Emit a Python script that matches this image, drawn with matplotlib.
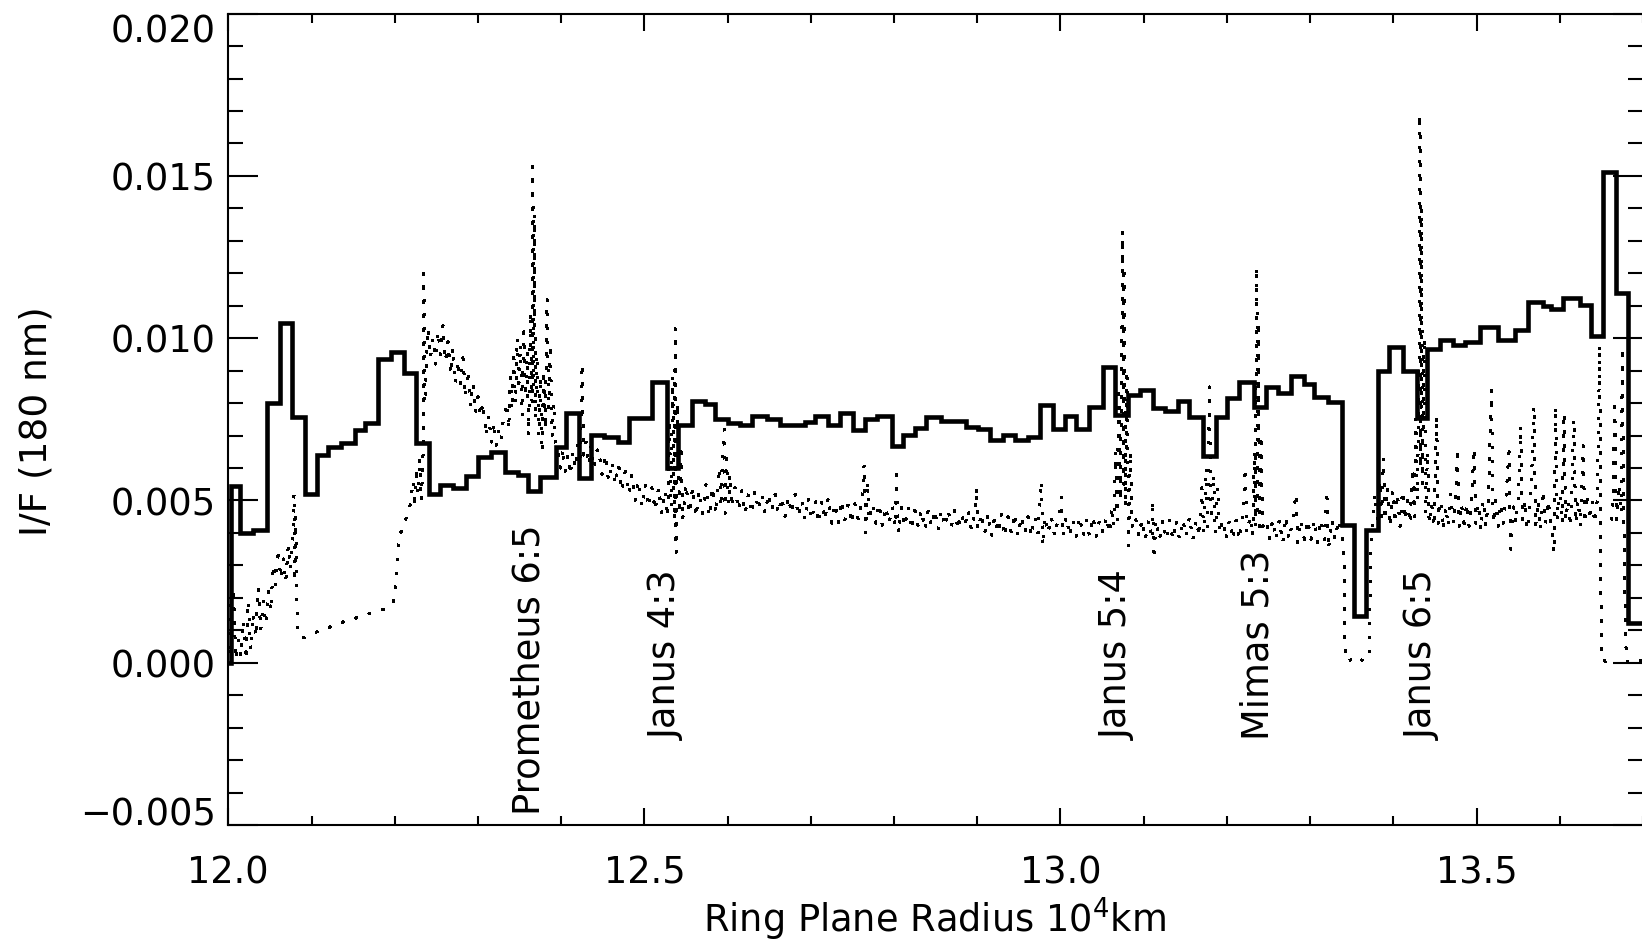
import numpy as np
import matplotlib
matplotlib.use("Agg")
import matplotlib.pyplot as plt
from matplotlib.ticker import FixedLocator, FixedFormatter, MultipleLocator

plt.rcParams['font.family'] = ['DejaVu Sans']

# ---------------- data ----------------
# binned profile (thick step line): bin edges (10^4 km) and I/F values (x 1e-3)
step_edges = [11.98, 12.003, 12.014, 12.030, 12.047, 12.062, 12.076, 12.092, 12.107, 12.120,
              12.136, 12.152, 12.164, 12.180, 12.196, 12.211, 12.226, 12.241, 12.254, 12.270,
              12.286, 12.300, 12.316, 12.332, 12.348, 12.360, 12.374, 12.394, 12.406, 12.422,
              12.436, 12.452, 12.468, 12.482, 12.495, 12.509, 12.527, 12.540, 12.557, 12.573,
              12.585, 12.601, 12.615, 12.629, 12.647, 12.663, 12.678, 12.693, 12.705, 12.721,
              12.735, 12.751, 12.765, 12.779, 12.797, 12.811, 12.825, 12.839, 12.857, 12.872,
              12.887, 12.901, 12.915, 12.931, 12.945, 12.961, 12.975, 12.991, 13.005, 13.019,
              13.034, 13.051, 13.066, 13.081, 13.096, 13.111, 13.126, 13.141, 13.155, 13.171,
              13.187, 13.200, 13.215, 13.233, 13.247, 13.261, 13.277, 13.293, 13.305, 13.321,
              13.338, 13.353, 13.367, 13.381, 13.395, 13.411, 13.428, 13.441, 13.456, 13.472,
              13.486, 13.504, 13.526, 13.546, 13.562, 13.580, 13.589, 13.604, 13.624, 13.637,
              13.652, 13.668, 13.682, 13.75]
step_if_milli = [0.0, 5.45, 4.00, 4.10, 8.00, 10.48, 7.58, 5.19, 6.40, 6.66,
                 6.78, 7.17, 7.38, 9.35, 9.58, 8.92, 6.76, 5.19, 5.47, 5.40,
                 5.75, 6.35, 6.50, 5.89, 5.79, 5.30, 5.73, 6.66, 7.69, 5.68,
                 7.02, 6.95, 6.81, 7.53, 7.53, 8.66, 5.99, 7.33, 8.08, 7.97,
                 7.50, 7.40, 7.33, 7.60, 7.51, 7.33, 7.33, 7.43, 7.60, 7.33,
                 7.69, 7.17, 7.50, 7.60, 6.68, 7.02, 7.22, 7.58, 7.45, 7.46,
                 7.27, 7.19, 6.86, 7.01, 6.86, 6.95, 7.94, 7.19, 7.60, 7.19,
                 7.87, 9.10, 7.63, 8.25, 8.40, 7.84, 7.76, 8.08, 7.58, 6.37,
                 7.58, 8.17, 8.66, 7.89, 8.51, 8.30, 8.84, 8.59, 8.18, 8.03,
                 4.24, 1.44, 4.09, 9.00, 9.72, 9.00, 7.53, 9.66, 9.95, 9.79,
                 9.89, 10.35, 9.94, 10.25, 11.12, 10.99, 10.89, 11.23, 11.02, 10.07,
                 15.13, 11.40, 1.22]

# full-resolution profile (dotted line): radius (10^4 km) and I/F (x 1e-3)
dot_r = [
    12.000, 12.003, 12.006, 12.009, 12.012, 12.015, 12.018, 12.021, 12.024, 12.027, 12.030, 12.033, 12.036, 12.039, 12.042, 12.045,
    12.048, 12.051, 12.054, 12.057, 12.060, 12.063, 12.066, 12.069, 12.072, 12.075, 12.078, 12.079, 12.080, 12.081, 12.083,
    12.086, 12.092, 12.100, 12.110, 12.120, 12.130, 12.140, 12.150, 12.160, 12.170, 12.180, 12.190, 12.198,
    12.202, 12.204, 12.207, 12.211, 12.215, 12.219, 12.222, 12.224, 12.226, 12.228, 12.230, 12.232, 12.234, 12.235, 12.236,
    12.238, 12.240, 12.243, 12.246, 12.249, 12.252, 12.255, 12.258, 12.261, 12.264, 12.267, 12.270, 12.273, 12.276, 12.279, 12.282, 12.285, 12.288, 12.291, 12.294, 12.297, 12.300, 12.303, 12.306,
    12.310, 12.313, 12.316, 12.319, 12.322, 12.325, 12.328, 12.331,
    12.335, 12.337, 12.339, 12.341, 12.343, 12.345, 12.347, 12.349, 12.351, 12.353, 12.355, 12.357, 12.359, 12.361, 12.363, 12.365, 12.366, 12.367, 12.368, 12.369, 12.371, 12.373, 12.375, 12.377, 12.379, 12.381, 12.383, 12.385, 12.387, 12.389, 12.391, 12.393,
    12.396, 12.399, 12.402, 12.405, 12.408, 12.411, 12.414, 12.417, 12.420, 12.423, 12.425, 12.427, 12.430, 12.433, 12.436, 12.439, 12.442,
    12.445, 12.449, 12.453, 12.457, 12.461, 12.465, 12.469, 12.473, 12.477, 12.481, 12.485, 12.489, 12.493, 12.497, 12.501, 12.505, 12.509, 12.513, 12.517, 12.521, 12.525,
    12.528, 12.530, 12.532, 12.534, 12.536, 12.537, 12.538, 12.540, 12.542, 12.544, 12.546,
    12.550, 12.554, 12.558, 12.562, 12.566, 12.570, 12.574, 12.578, 12.582, 12.586,
    12.590, 12.592, 12.594, 12.596, 12.597, 12.599, 12.601, 12.603, 12.605,
    12.609, 12.613, 12.617, 12.621, 12.625, 12.629, 12.633, 12.637, 12.641, 12.645, 12.649, 12.653, 12.657, 12.661, 12.665, 12.669, 12.673, 12.677, 12.681, 12.685, 12.689,
    12.693, 12.697, 12.701, 12.705, 12.709, 12.713, 12.717, 12.721, 12.725, 12.729, 12.733, 12.737, 12.741, 12.745, 12.749, 12.753, 12.757, 12.761,
    12.764, 12.766, 12.768, 12.770, 12.774, 12.778, 12.782, 12.786, 12.790, 12.794, 12.798, 12.801, 12.803, 12.805,
    12.809, 12.813, 12.817, 12.821, 12.825, 12.829, 12.833, 12.837, 12.841, 12.845, 12.849, 12.853, 12.857, 12.861, 12.865, 12.869, 12.873, 12.877, 12.881, 12.885, 12.889, 12.893, 12.897,
    12.899, 12.901, 12.905, 12.909, 12.913, 12.917, 12.921, 12.925, 12.929, 12.933, 12.937, 12.941, 12.945, 12.949, 12.953, 12.957, 12.961, 12.965, 12.969, 12.973,
    12.977, 12.979, 12.981, 12.985, 12.989, 12.993, 12.997, 13.001, 13.003, 13.007, 13.011, 13.015, 13.019, 13.023, 13.027, 13.031, 13.035, 13.039, 13.043, 13.047, 13.051, 13.055, 13.059,
    13.062, 13.064, 13.066, 13.068, 13.070, 13.072, 13.074, 13.075, 13.076, 13.077, 13.078, 13.080, 13.082, 13.084, 13.086,
    13.090, 13.094, 13.098, 13.102, 13.106, 13.110, 13.111, 13.112, 13.115, 13.119, 13.123, 13.127, 13.131, 13.135, 13.139, 13.143, 13.147, 13.151, 13.155, 13.159, 13.163, 13.167,
    13.170, 13.172, 13.175, 13.177, 13.179, 13.181, 13.184, 13.186, 13.189, 13.191,
    13.195, 13.199, 13.203, 13.207, 13.211, 13.215, 13.219, 13.222, 13.224, 13.228, 13.231,
    13.233, 13.234, 13.235, 13.236, 13.237, 13.238, 13.239, 13.241, 13.243,
    13.247, 13.251, 13.255, 13.259, 13.263, 13.267, 13.271, 13.275, 13.279, 13.283, 13.285, 13.289, 13.293, 13.297, 13.301, 13.305, 13.309, 13.313, 13.317, 13.320, 13.322, 13.326, 13.330, 13.334, 13.338,
    13.341, 13.342, 13.344, 13.350, 13.355, 13.360, 13.366, 13.371, 13.373, 13.375,
    13.378, 13.381, 13.384, 13.386, 13.388, 13.390, 13.393, 13.396, 13.399, 13.402, 13.405, 13.408, 13.411, 13.414, 13.417, 13.420,
    13.423, 13.425, 13.427, 13.429, 13.431, 13.432, 13.433, 13.434, 13.435, 13.437, 13.439, 13.441, 13.443,
    13.446, 13.449, 13.452, 13.454, 13.457, 13.460, 13.463, 13.466, 13.469, 13.472, 13.475, 13.477, 13.479, 13.482, 13.485, 13.488, 13.491, 13.494, 13.497, 13.499,
    13.502, 13.505, 13.508, 13.511, 13.514, 13.518, 13.520, 13.523, 13.526, 13.529, 13.532, 13.535, 13.539, 13.541, 13.544, 13.547, 13.550, 13.553, 13.555, 13.558,
    13.561, 13.564, 13.566, 13.569, 13.571, 13.574, 13.577, 13.580, 13.583, 13.586, 13.589, 13.593, 13.595, 13.597, 13.600, 13.603, 13.605, 13.607, 13.610, 13.613,
    13.617, 13.619, 13.622, 13.625, 13.628, 13.630, 13.633, 13.636, 13.639, 13.642, 13.645, 13.648, 13.649, 13.650,
    13.655, 13.660, 13.661, 13.662, 13.664, 13.666, 13.668, 13.671, 13.674, 13.675, 13.677, 13.679, 13.682, 13.690, 13.700,
]
dot_if_milli = [
    1.8, 0.2, 2.3, 0.1, 0.7, 0.2, 1.3, 0.1, 1.9, 0.4, 1.5, 0.8, 2.3, 1.0, 1.9, 1.2,
    2.2, 1.6, 3.0, 2.4, 3.5, 2.6, 3.2, 2.5, 3.6, 2.9, 4.1, 5.2, 2.5, 4.5, 1.0,
    0.80, 0.78, 0.88, 1.00, 1.08, 1.18, 1.28, 1.36, 1.42, 1.52, 1.60, 1.68, 1.85,
    2.6, 3.6, 4.0, 4.2, 4.6, 4.9, 5.6, 4.8, 6.0, 5.2, 6.3, 5.0, 6.4, 12.0, 8.0,
    9.2, 10.3, 9.4, 10.0, 9.2, 10.2, 9.5, 10.4, 9.3, 9.9, 8.9, 9.7, 8.6, 9.3, 8.6, 9.4, 8.2, 9.0, 7.9, 8.6, 7.7, 8.2, 7.6, 8.0,
    7.0, 7.6, 6.8, 7.4, 6.7, 7.2, 6.9, 7.6,
    8.0, 7.2, 9.0, 7.8, 9.6, 8.0, 10.0, 8.4, 9.8, 7.6, 10.2, 8.2, 9.6, 7.0, 10.8, 8.0, 15.3, 8.5, 13.8, 7.5, 9.5, 7.0, 8.8, 6.5, 9.0, 7.2, 11.2, 7.8, 9.8, 7.0, 8.0, 6.8,
    6.6, 6.0, 6.6, 5.9, 6.4, 5.8, 6.5, 6.0, 6.7, 6.1, 9.2, 6.4, 6.8, 6.1, 6.7, 6.0, 6.5,
    6.6, 5.8, 6.4, 5.6, 6.2, 5.5, 6.1, 5.3, 5.9, 5.2, 5.8, 5.0, 5.6, 4.8, 5.5, 4.8, 5.4, 4.7, 5.4, 4.6, 5.3,
    4.5, 7.5, 4.8, 8.8, 4.4, 10.3, 3.4, 8.0, 4.6, 6.5, 4.4,
    5.5, 4.6, 5.4, 4.5, 5.3, 4.6, 5.5, 4.5, 5.4, 4.6,
    6.0, 4.8, 6.6, 7.2, 4.6, 6.3, 4.9, 5.8, 4.8,
    5.4, 4.7, 5.3, 4.6, 5.2, 4.6, 5.3, 4.7, 5.2, 4.6, 5.2, 4.7, 5.2, 4.6, 5.1, 4.5, 5.1, 4.6, 5.2, 4.5, 5.0,
    4.4, 5.1, 4.4, 5.0, 4.3, 5.0, 4.4, 5.1, 4.3, 4.9, 4.3, 5.0, 4.4, 4.9, 4.3, 4.9, 4.4, 4.9,
    6.1, 4.0, 5.6, 4.4, 4.9, 4.3, 4.9, 4.2, 4.8, 4.3, 4.8, 4.2, 5.8, 4.0,
    4.8, 4.2, 4.8, 4.1, 4.7, 4.2, 4.7, 4.1, 4.7, 4.2, 4.7, 4.1, 4.7, 4.2, 4.7, 4.2, 4.7, 4.1, 4.6, 4.2, 4.7, 4.1, 4.6,
    5.4, 4.1, 4.6, 4.0, 4.6, 3.9, 4.5, 4.0, 4.6, 3.9, 4.5, 4.0, 4.6, 3.9, 4.5, 4.0, 4.5, 3.9, 4.5, 4.0,
    5.6, 3.6, 4.5, 4.0, 4.5, 3.9, 4.4, 5.1, 3.9, 4.5, 3.9, 4.4, 3.9, 4.5, 3.9, 4.4, 3.9, 4.5, 3.9, 4.4, 4.0, 4.5, 4.0,
    4.8, 4.2, 6.5, 4.4, 8.5, 5.0, 10.5, 13.3, 5.5, 12.0, 4.8, 9.0, 3.6, 6.5, 4.2,
    4.5, 3.9, 4.4, 3.8, 4.4, 3.8, 5.0, 3.2, 4.4, 3.8, 4.4, 3.8, 4.4, 3.8, 4.4, 3.8, 4.4, 3.9, 4.5, 3.8, 4.4, 3.9,
    5.4, 4.0, 6.0, 4.2, 8.5, 4.4, 5.8, 4.0, 5.4, 4.0,
    4.4, 3.8, 4.4, 3.8, 4.4, 3.8, 4.4, 6.0, 4.0, 4.5, 3.9,
    6.5, 4.2, 9.0, 12.2, 4.5, 10.5, 4.0, 7.0, 4.2,
    4.4, 3.8, 4.4, 3.8, 4.4, 3.7, 4.5, 3.8, 4.4, 5.2, 3.7, 4.4, 3.8, 4.4, 3.8, 4.4, 3.7, 4.4, 3.8, 5.3, 3.5, 4.4, 3.8, 4.4, 4.0,
    3.0, 0.3, 0.05, 0.1, 0.0, 0.1, 0.05, 0.3, 3.5, 4.2,
    5.2, 4.3, 5.6, 4.5, 6.3, 4.4, 5.4, 4.2, 5.3, 4.3, 5.2, 4.2, 5.3, 4.4, 5.0, 4.3,
    6.0, 4.5, 7.5, 5.0, 9.5, 16.9, 6.0, 14.0, 5.5, 10.0, 4.6, 6.5, 4.3,
    4.9, 4.2, 7.6, 4.3, 5.0, 4.1, 4.8, 4.2, 5.2, 4.3, 5.0, 6.6, 4.2, 4.9, 4.1, 4.9, 4.2, 5.0, 6.6, 4.3,
    4.9, 4.1, 5.0, 4.2, 4.9, 8.4, 4.3, 5.0, 4.2, 4.9, 4.3, 5.0, 6.5, 3.5, 4.8, 4.3, 5.0, 7.3, 4.4, 5.0,
    4.1, 4.9, 5.6, 7.9, 4.2, 5.0, 4.1, 5.3, 4.3, 5.0, 4.4, 3.4, 7.9, 4.4, 5.2, 4.3, 7.7, 4.4, 5.0, 4.2,
    7.5, 4.3, 5.0, 4.2, 6.7, 4.3, 5.2, 4.4, 5.0, 4.3, 5.0, 9.8, 4.0, 0.1,
    0.05, 0.1, np.nan, 4.4, 5.2, 8.1, 4.4, 5.5, 4.6, 9.7, 4.4, 0.6, 0.0, 0.1, 0.05,
]
assert len(dot_r) == len(dot_if_milli), (len(dot_r), len(dot_if_milli))
assert len(step_edges) == len(step_if_milli) + 1

# resonance labels
res_names = ["Prometheus 6:5", "Janus 4:3", "Janus 5:4", "Mimas 5:3", "Janus 6:5"]
res_r = [12.3608, 12.5264, 13.0689, 13.2370, 13.4351]
res_label_base = [-0.00469, -0.00238, -0.00238, -0.00238, -0.00238]

x_major = [12.0, 12.5, 13.0, 13.5]
x_labels = ["12.0", "12.5", "13.0", "13.5"]
y_major = [-0.005, 0.000, 0.005, 0.010, 0.015, 0.020]
y_labels = ["\u22120.005", "0.000", "0.005", "0.010", "0.015", "0.020"]

# ---------------- figure ----------------
W, H = 1642, 942
fig = plt.figure(figsize=(W / 100, H / 100), dpi=100)
fig.patch.set_facecolor("white")
ax = fig.add_axes([228.3 / W, 1 - 825.1 / H, (1643.0 - 228.3) / W, (825.1 - 13.6) / H])
ax.set_xlim(12.0, 13.7)
ax.set_ylim(-0.005, 0.020)

# dotted full-resolution profile
ax.plot(dot_r, np.array(dot_if_milli) * 1e-3, color="black", lw=1.45,
        linestyle=(0, (1, 5.8)), antialiased=False, zorder=2)

# binned profile as thick steps
ax.stairs(np.array(step_if_milli) * 1e-3, step_edges, baseline=None,
          color="black", lw=3.3, zorder=3, joinstyle="miter")

# resonance labels
FS = 26.5
for name, r, yb in zip(res_names, res_r, res_label_base):
    ax.text(r, yb, name, rotation=90, ha="center", va="bottom", fontsize=FS, color="black")

# ticks
ax.xaxis.set_major_locator(FixedLocator(x_major))
ax.xaxis.set_major_formatter(FixedFormatter(x_labels))
ax.xaxis.set_minor_locator(MultipleLocator(0.1))
ax.yaxis.set_major_locator(FixedLocator(y_major))
ax.yaxis.set_major_formatter(FixedFormatter(y_labels))
ax.yaxis.set_minor_locator(MultipleLocator(0.001))
ax.tick_params(which="both", direction="in", top=True, right=True, width=1.5,
               color="black", labelsize=FS)
ax.tick_params(axis="x", which="major", length=12.2, pad=21.0)
ax.tick_params(axis="x", which="minor", length=6.5)
ax.tick_params(axis="y", which="major", length=21.6, pad=9.0)
ax.tick_params(axis="y", which="minor", length=10.8)
for s in ax.spines.values():
    s.set_linewidth(1.5)

yt = ax.yaxis.get_major_ticks()
yt[0].label1.set_va("baseline")
yt[-1].label1.set_va("top")

ax.set_xlabel("Ring Plane Radius 10$^4$km", fontsize=FS, va="baseline")
ax.xaxis.set_label_coords((934.6 - 228.3) / (1643.0 - 228.3), (825.1 - 932.0) / (825.1 - 13.6))
ax.set_ylabel("I/F (180 nm)", fontsize=FS + 0.5, va="center")
ax.yaxis.set_label_coords((36.7 - 228.3) / (1643.0 - 228.3), (825.1 - 421.0) / (825.1 - 13.6))

fig.savefig("out.png", dpi=100, facecolor="white")
